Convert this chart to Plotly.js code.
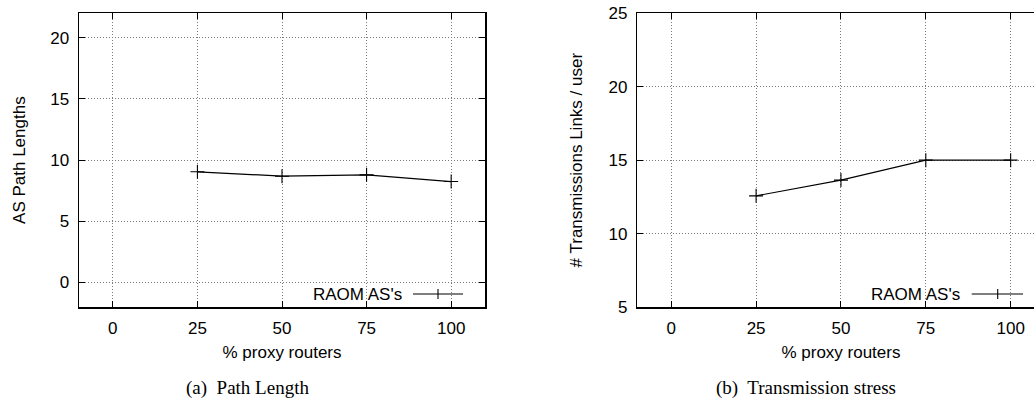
<!DOCTYPE html>
<html>
<head>
<meta charset="utf-8">
<script src="https://cdn.plot.ly/plotly-3.0.1.min.js"></script>
<style>
html,body{margin:0;padding:0;overflow:hidden;background:#fff;}
#chart{width:1050px;height:402px;}
</style>
</head>
<body>
<div id="chart"></div>
<script>
// Data
const proxyPct = [25, 50, 75, 100];
const pathLengths = [9.05, 8.69, 8.8, 8.25];
const transmissionLinks = [12.57, 13.64, 15.0, 15.0];
const xTicks = [0, 25, 50, 75, 100];
const yTicksA = [0, 5, 10, 15, 20];
const yTicksB = [5, 10, 15, 20, 25];
const seriesName = "RAOM AS's";
const captionA = "(a)  Path Length";
const captionB = "(b)  Transmission stress";

const W = 1050, H = 402;
const px = v => v / W;
const py = v => (H - v) / H;

const FONT = {family: 'Liberation Sans, Arial, sans-serif', size: 17, color: '#000'};
const SERIF = {family: 'Liberation Serif, Times New Roman, serif', size: 19, color: '#000'};

function axisBase(extra) {
  return Object.assign({
    showline: true, linecolor: '#000', linewidth: 1.5, mirror: 'ticks',
    ticks: 'inside', ticklen: 6, tickwidth: 1, tickcolor: '#000',
    showgrid: true, gridcolor: '#7a7a7a', gridwidth: 1, griddash: '1px,2px',
    zeroline: false, tickfont: FONT, fixedrange: true
  }, extra);
}

const lineStyle = {color: '#000', width: 1.2};
const markerStyle = {symbol: 'cross-thin-open', size: 10, color: '#000', line: {color: '#000', width: 1.1}};

const traces = [
  {x: proxyPct, y: pathLengths, xaxis: 'x', yaxis: 'y', mode: 'lines+markers', name: seriesName,
   line: lineStyle, marker: markerStyle, showlegend: false},
  {x: proxyPct, y: transmissionLinks, xaxis: 'x2', yaxis: 'y2', mode: 'lines+markers', name: seriesName,
   line: lineStyle, marker: markerStyle, showlegend: false}
];

const yDom = [py(307), py(13.3)];

const layout = {
  width: W, height: H,
  margin: {l: 0, r: 0, t: 0, b: 0},
  paper_bgcolor: '#fff', plot_bgcolor: '#fff',
  showlegend: false,
  xaxis: axisBase({domain: [px(79), px(485)], range: [-10, 110], tickvals: xTicks, ticklabelstandoff: 5,
    anchor: 'y', title: {text: '% proxy routers', font: FONT, standoff: 9}}),
  yaxis: axisBase({domain: yDom, range: [-2, 22], tickvals: yTicksA, ticklabelstandoff: 5,
    anchor: 'x', title: {text: 'AS Path Lengths', font: FONT, standoff: 20}}),
  xaxis2: axisBase({domain: [px(637.3), px(1044.6)], range: [-10, 110], tickvals: xTicks, ticklabelstandoff: 5,
    anchor: 'y2', title: {text: '% proxy routers', font: FONT, standoff: 9}}),
  yaxis2: axisBase({domain: yDom, range: [5, 25], tickvals: yTicksB, ticklabelstandoff: 5,
    anchor: 'x2', title: {text: '# Transmissions Links / user', font: FONT, standoff: 21}}),
  annotations: [
    {text: captionA, xref: 'paper', yref: 'paper', x: px(247), y: py(388), xanchor: 'center', yanchor: 'middle', showarrow: false, font: SERIF},
    {text: captionB, xref: 'paper', yref: 'paper', x: px(806), y: py(388), xanchor: 'center', yanchor: 'middle', showarrow: false, font: SERIF},
    {text: seriesName, xref: 'paper', yref: 'paper', x: px(404), y: py(294), xanchor: 'right', yanchor: 'middle', showarrow: false, font: FONT},
    {text: seriesName, xref: 'paper', yref: 'paper', x: px(962), y: py(294), xanchor: 'right', yanchor: 'middle', showarrow: false, font: FONT}
  ],
  shapes: [
    {type: 'line', xref: 'paper', yref: 'paper', x0: px(413), x1: px(463), y0: py(294), y1: py(294), line: {color: '#000', width: 1.1}},
    {type: 'line', xref: 'paper', yref: 'paper', x0: px(438), x1: px(438), y0: py(289), y1: py(299), line: {color: '#000', width: 1.1}},
    {type: 'line', xref: 'paper', yref: 'paper', x0: px(971.7), x1: px(1023), y0: py(294), y1: py(294), line: {color: '#000', width: 1.1}},
    {type: 'line', xref: 'paper', yref: 'paper', x0: px(997.7), x1: px(997.7), y0: py(289), y1: py(299), line: {color: '#000', width: 1.1}}
  ]
};

Plotly.newPlot('chart', traces, layout, {displayModeBar: false, staticPlot: true});
</script>
</body>
</html>
